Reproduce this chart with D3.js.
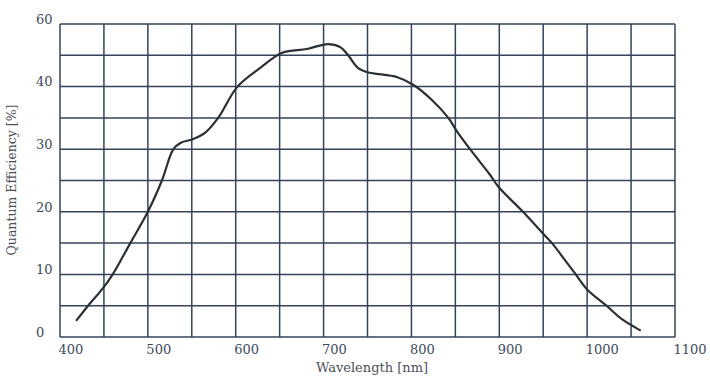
<!DOCTYPE html>
<html>
<head>
<meta charset="utf-8">
<script src="https://cdn.jsdelivr.net/npm/d3@7"></script>
<style>
  html, body { margin: 0; padding: 0; background: #ffffff; }
  svg { display: block; }
</style>
</head>
<body>
<svg id="chart" width="710" height="378"></svg>
<script>
// Quantum efficiency curve of the sensor, wavelength in nm vs QE in %
const wavelength = [419, 432, 449, 460, 480, 500, 516, 529, 537, 551, 565, 580, 602, 628, 653, 681, 705, 719, 728, 739, 750, 784, 802, 823, 842, 853, 870, 889, 899, 927, 950, 960, 973, 986, 1000, 1022, 1040, 1060];
const efficiency = [2.7, 5, 7.8, 10, 15, 20, 25, 30, 31, 31.6, 32.6, 35, 40, 43, 45.4, 46, 46.8, 46.3, 45, 43, 42.3, 41.5, 40.3, 37.9, 35, 32.6, 29.4, 26, 24, 20, 16.5, 15, 12.6, 10.2, 7.6, 5, 2.8, 1.1];

// Axis ticks and their printed labels
const xTickValues = [400, 500, 600, 700, 800, 900, 1000, 1100];
const xTickLabels = ["400", "500", "600", "700", "800", "900", "1000", "1100"];
const yTickValues = [0, 10, 20, 30, 40, 50];
const yTickLabels = ["0", "10", "20", "30", "40", "60"];
const xGridValues = d3.range(400, 1101, 50);
const yGridValues = d3.range(0, 51, 5);

const margin = { left: 60, right: 35, top: 24, bottom: 41 };
const W = 710, H = 378;

const svg = d3.select("#chart");
const x = d3.scaleLinear().domain([400, 1100]).range([margin.left, W - margin.right]);
const y = d3.scaleLinear().domain([0, 50]).range([H - margin.bottom, margin.top]);

const gridColor = "#34435a";
const labelColor = "#3d4a5c";

// Grid
const grid = svg.append("g");
grid.selectAll("line.v").data(xGridValues).join("line")
  .attr("class", "v")
  .attr("x1", d => x(d)).attr("x2", d => x(d))
  .attr("y1", y(0)).attr("y2", y(50))
  .attr("stroke", gridColor).attr("stroke-width", 1.5);
grid.selectAll("line.h").data(yGridValues).join("line")
  .attr("class", "h")
  .attr("x1", x(400)).attr("x2", x(1100))
  .attr("y1", d => y(d)).attr("y2", d => y(d))
  .attr("stroke", gridColor).attr("stroke-width", 1.5);

// Axes (labels only, lines are part of the grid)
const xAxis = d3.axisBottom(x)
  .tickValues(xTickValues)
  .tickSize(0)
  .tickFormat((d, i) => xTickLabels[i]);
const gx = svg.append("g")
  .attr("transform", `translate(0,${y(0)})`)
  .call(xAxis);
gx.select(".domain").remove();
gx.selectAll("text")
  .attr("text-anchor", "start")
  .attr("dx", "-2")
  .attr("y", 8)
  .attr("dy", "0.71em")
  .attr("fill", labelColor)
  .style("font-family", "'DejaVu Serif', serif")
  .style("font-size", "13px");

const yAxis = d3.axisLeft(y)
  .tickValues(yTickValues)
  .tickSize(0)
  .tickFormat((d, i) => yTickLabels[i]);
const gy = svg.append("g")
  .attr("transform", `translate(${margin.left},0)`)
  .call(yAxis);
gy.select(".domain").remove();
gy.selectAll("text")
  .attr("text-anchor", "start")
  .attr("x", -24)
  .attr("dy", "-0.05em")
  .attr("fill", labelColor)
  .style("font-family", "'DejaVu Serif', serif")
  .style("font-size", "13px");

// Axis titles
svg.append("text")
  .attr("x", 372).attr("y", 372)
  .attr("text-anchor", "middle")
  .attr("fill", "#4a5058")
  .style("font-family", "'DejaVu Serif', serif")
  .style("font-size", "13px")
  .text("Wavelength [nm]");

svg.append("text")
  .attr("transform", `translate(16,180) rotate(-90)`)
  .attr("text-anchor", "middle")
  .attr("fill", "#4a5058")
  .style("font-family", "'DejaVu Serif', serif")
  .style("font-size", "12.5px")
  .text("Quantum Efficiency [%]");

// QE curve
const line = d3.line()
  .x(d => x(d[0]))
  .y(d => y(d[1]))
  .curve(d3.curveCatmullRom.alpha(0.5));
svg.append("path")
  .datum(wavelength.map((w, i) => [w, efficiency[i]]))
  .attr("d", line)
  .attr("fill", "none")
  .attr("stroke", "#2a3035")
  .attr("stroke-width", 2.2)
  .attr("stroke-linejoin", "round")
  .attr("stroke-linecap", "round");
</script>
</body>
</html>
